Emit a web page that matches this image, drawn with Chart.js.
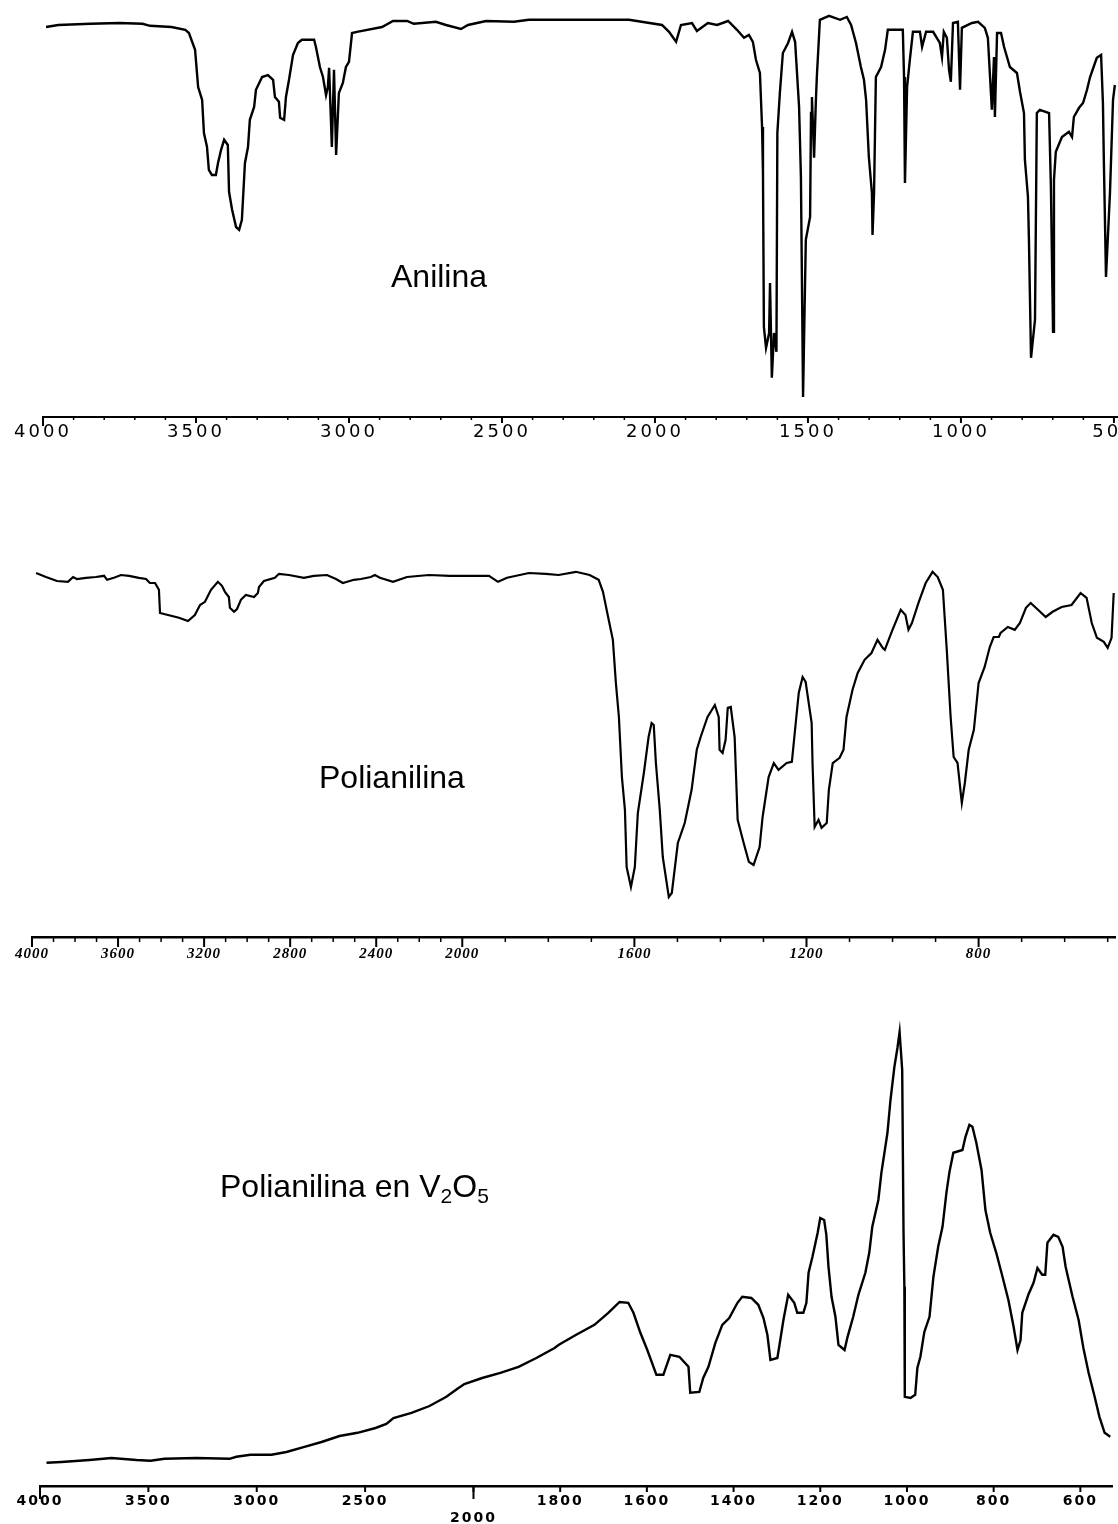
<!DOCTYPE html>
<html lang="es">
<head>
<meta charset="UTF-8">
<title>Espectros IR: Anilina, Polianilina, Polianilina en V2O5</title>
<script src="https://cdn.jsdelivr.net/npm/chart.js"></script>
<style>
  html, body { margin: 0; padding: 0; background: #fff; }
  body { width: 1118px; height: 1524px; position: relative; overflow: hidden; }
  .panel { position: absolute; left: 0; width: 1118px; overflow: hidden; }
  .panel .inner { position: relative; width: 1170px; height: 100%; }
  .label { position: absolute; font-family: "Liberation Sans", Arial, sans-serif; font-size: 32px; line-height: 32px; color: #000; white-space: nowrap; }
  .label sub { font-size: 21px; line-height: 0; vertical-align: -6px; }
</style>
</head>
<body>
  <div class="panel" id="p1" style="top:0;height:457px"><div class="inner"><canvas id="c1"></canvas></div></div>
  <div class="panel" id="p2" style="top:520px;height:457px"><div class="inner"><canvas id="c2"></canvas></div></div>
  <div class="panel" id="p3" style="top:1009px;height:515px"><div class="inner"><canvas id="c3"></canvas></div></div>

  <div class="label" style="left:391px;top:260px">Anilina</div>
  <div class="label" style="left:319px;top:761px">Polianilina</div>
  <div class="label" style="left:220px;top:1170px">Polianilina en V<sub>2</sub>O<sub>5</sub></div>

<script>
// --- Anilina (cm-1 / transmitancia relativa)
const anilinaWn = [3990,3950,3845,3750,3675,3650,3580,3535,3523,3503,3493,3480,3474,3464,3458,3448,3435,3428,3418,3408,
  3396,3392,3382,3369,3359,3350,3340,3330,3324,3310,3304,3284,3265,3248,3242,3229,3225,3212,3206,3196,
  3183,3167,3154,3114,3108,3095,3085,3075,3069,3065,3056,3049,3042,3033,3020,3010,3000,2990,2974,2892,
  2856,2810,2788,2716,2683,2634,2611,2552,2461,2412,2320,2085,1977,1954,1931,1915,1879,1863,1827,1797,
  1761,1732,1709,1693,1680,1670,1657,1650,1647,1644,1637,1627,1624,1618,1611,1603,1600,1592,1582,1565,
  1552,1542,1529,1523,1516,1507,1493,1490,1487,1480,1474,1471,1461,1431,1395,1373,1359,1343,1327,1317,
  1310,1301,1291,1289,1284,1278,1261,1248,1239,1190,1186,1183,1176,1167,1157,1134,1127,1114,1091,1069,
  1062,1056,1046,1039,1033,1026,1010,1003,997,964,944,922,912,899,892,889,882,869,859,840,
  817,807,794,791,781,778,771,758,752,742,712,706,699,696,690,670,647,637,631,614,
  601,588,578,556,542,536,533,526,513,503,497];
const anilinaT = [97.5,98,98.3,98.5,98.3,97.8,97.5,96.8,96,91.8,82.5,79.3,71,67.5,61.8,60.5,60.5,63.5,66.8,69.3,
  68,56.3,51.8,47.5,46.8,49.3,63.5,67.5,74.3,77.5,81.8,85,85.5,84.3,80,78.8,74.8,74.3,80,84.3,
  90.5,93.5,94.3,94.3,92.5,87.5,85,80.5,82.5,87.3,67.5,86.8,65.5,81,83.5,87.5,88.8,96,96.3,97.5,
  99,99,98.3,98.8,98,97,98,99,98.8,99.3,99.3,99.3,98,96.3,93.8,98,98.5,96.5,98.5,98,
  99,96.8,94.8,95.5,93.8,89.3,86,72.5,61,22.5,17.3,21,33.5,9.8,21,16.3,71,80.8,91,93.5,
  96.3,93.8,77.5,60,5,44.3,50,76,80,64.8,79.3,85,99.3,100.3,99.3,100,98,93.5,87.5,84.3,
  79.3,65,56,45.5,56,85,87.5,91.8,96.8,96.8,85,58.5,82.5,89.3,96.3,96.3,92.5,96.3,96.3,93.5,
  90,96.3,94.8,86.8,83.8,98.5,98.8,81.8,97.3,98.5,98.8,97.3,94.8,76.8,90,75,96,96,92.5,87.5,
  86,81.3,76,64.3,55,45,14.8,24.3,76,76.8,76,57.5,21.3,59.3,66.3,70,71.3,70,75,77.3,
  78.5,81.8,85,89.8,90.5,78.5,64.3,35,56,79.3,83];

// --- Polianilina
const polianilinaWn = [3981,3935,3884,3833,3809,3791,3749,3703,3665,3651,3619,3586,3549,3503,3470,3452,3428,3410,3405,3368,
  3317,3275,3243,3219,3196,3168,3136,3117,3103,3085,3080,3061,3047,3029,3006,2968,2950,2945,2922,2871,
  2852,2806,2736,2690,2629,2587,2555,2504,2471,2425,2406,2383,2322,2257,2155,2058,1938,1917,1896,1845,
  1806,1776,1736,1704,1683,1673,1662,1650,1643,1636,1629,1622,1618,1608,1599,1592,1578,1567,1560,1555,
  1550,1541,1534,1520,1513,1499,1483,1467,1455,1446,1430,1413,1404,1402,1395,1388,1383,1376,1367,1360,
  1346,1334,1323,1309,1302,1288,1276,1265,1246,1234,1225,1218,1209,1202,1188,1186,1181,1172,1165,1153,
  1148,1139,1123,1114,1107,1093,1081,1065,1049,1035,1023,1018,1002,981,970,963,955,939,923,907,
  895,883,874,865,858,849,839,832,823,811,800,786,774,765,753,749,732,716,704,690,
  679,662,644,628,607,584,563,549,537,525,509,500,491,486];
const polianilinaT = [91,90,89,88.8,90,89.5,89.8,90,90.3,89.3,89.8,90.5,90.3,89.8,89.5,88.5,88.5,86.8,81,80.5,
  79.8,79,80.5,83,83.8,86.8,88.8,87.8,86.3,85,82.3,81.3,82,84.3,85.5,85,86,87.5,89,89.8,
  90.8,90.5,89.8,90.3,90.5,89.5,88.5,89.3,89.5,90,90.5,89.8,88.8,90,90.5,90.3,90.3,88.8,89.8,91,
  90.8,90.5,91.3,90.5,89.3,86.3,80.5,74.3,63.5,55,40,31.8,17.5,12.5,17.5,31,41,50,53.5,53,
  43.5,31.8,20,10,11,23.5,28.5,36.8,46.8,50,55,58,55,46.8,46,49.3,57.3,57.5,50,29.3,
  23.5,18.8,18,22.5,30,40,43.5,41.8,43.5,43.8,53.5,61,65,63.8,53.5,43.5,27.5,29.3,27.3,28.5,
  36.8,43.5,44.8,46.8,55,61.8,66,69.3,71,74.3,72.3,71.8,76.3,81.8,80.5,76.8,78.5,83.8,88.5,91.3,
  90,86.8,71.8,55,45,43.5,33.5,38.5,46.8,51.8,63.5,67.5,72.5,75,75,76,77.5,76.8,78.5,82.3,
  83.5,81.8,80,81.3,82.5,83,86,84.8,78.5,74.8,73.8,72.3,74.8,86];

// --- Polianilina en V2O5
const pvWn = [3970,3901,3772,3670,3555,3490,3426,3278,3126,3094,3029,2932,2863,2780,2701,2618,2535,2452,2402,2369,
  2286,2203,2125,2074,2042,1980,1938,1896,1855,1813,1803,1763,1721,1689,1663,1643,1631,1615,1599,1578,
  1562,1546,1525,1504,1500,1479,1470,1458,1442,1426,1410,1391,1380,1359,1343,1331,1322,1315,1299,1294,
  1285,1274,1260,1253,1239,1232,1227,1218,1206,1200,1191,1186,1181,1174,1165,1158,1144,1137,1124,1112,
  1096,1087,1080,1066,1059,1045,1038,1029,1022,1017,1011,1008,1006,1005,992,981,976,969,960,948,
  939,928,918,909,902,893,872,865,856,849,840,828,819,808,794,782,766,754,745,738,
  734,720,708,699,688,681,676,662,651,641,634,618,604,593,581,567,556,544,531];
const pvT = [5.8,6,6.5,7,6.5,6.3,6.8,7,6.8,7.3,7.8,7.8,8.5,9.8,11,12.5,13.3,14.5,15.5,17,
  18.3,20,22.3,24.3,25.5,27,28.3,29.8,32,34.5,35.3,37.8,40.3,43.3,46,45.8,43.3,38.3,34,27.8,
  27.8,32.8,32.3,29.8,23.3,23.5,27,29.8,35.8,40.3,42,45.8,47.3,47,45.3,42,37.8,31.5,32,35.3,
  41.5,47.8,45.8,43.3,43.3,45.8,53.3,57.3,63.3,67,66.5,62.8,54.8,47.3,42.3,35.3,34,37.3,42.3,47.8,
  53.3,58.3,64.8,71.5,78.3,88.3,96.5,104.8,109.5,113.5,104,64,49.8,22.3,22,22.8,29.5,32.3,38.5,42.3,
  52.3,59.8,64.8,73.3,78.5,83.3,84,87.3,90.3,89.8,85.8,79,69,63.3,58.3,53.3,46.5,39.8,34,36.5,
  43.3,47.8,50.8,54.5,52.8,52.8,60.8,62.8,62.3,59.8,54.8,47.3,41.5,34.5,28.3,22.3,17.3,13.3,12.3];

// --- ejes (cm-1)
const ticks1 = [4000, 3500, 3000, 2500, 2000, 1500, 1000, 500];
const ticks2 = [4000, 3600, 3200, 2800, 2400, 2000, 1600, 1200, 800];
const ticks3 = [4000, 3500, 3000, 2500, 2000, 1800, 1600, 1400, 1200, 1000, 800, 600];

// eje lineal (anilina) y eje con escala doble bajo 2000 cm-1 (los otros dos)
const linPos = w => 4000 - w;
const splitPos = w => (w >= 2000 ? 4000 - w : 2000 + 2 * (2000 - w));

function minorList(from, to, step, majors) {
  const out = [];
  for (let w = from; w >= to; w -= step) if (!majors.includes(w)) out.push(w);
  return out;
}

const tickMarks = {
  id: 'tickMarks',
  beforeDraw(chart, args, o) {
    chart.ctx.letterSpacing = o.spacing || '0px';
  },
  afterDraw(chart, args, o) {
    const sc = chart.scales.x, ctx = chart.ctx, y = chart.chartArea.bottom;
    ctx.save();
    ctx.strokeStyle = '#000';
    const draw = (list, len, w) => list.forEach(wn => {
      const x = sc.getPixelForValue(o.pos(wn));
      ctx.lineWidth = w;
      ctx.beginPath(); ctx.moveTo(x, y); ctx.lineTo(x, y + len); ctx.stroke();
    });
    draw(o.minor, o.minorLen, 1.5);
    draw(o.major, o.majorLen, 2);
    draw(o.long, o.longLen, 2);
    ctx.restore();
  }
};

function makeChart(id, c) {
  const pts = c.wn.map((w, i) => ({ x: c.pos(w), y: c.t[i] }));
  const labelAt = new Map(c.major.map(w => [c.pos(w), String(w)]));
  return new Chart(document.getElementById(id), {
    type: 'line',
    data: { datasets: [{ data: pts, borderColor: '#000', borderWidth: c.lineW, pointRadius: 0, tension: 0, fill: false, clip: false }] },
    plugins: [tickMarks],
    options: {
      responsive: true,
      maintainAspectRatio: false,
      animation: false,
      layout: { padding: { left: c.left, right: c.right, top: 17, bottom: 0 } },
      plugins: {
        legend: { display: false },
        tooltip: { enabled: false },
        tickMarks: { pos: c.pos, major: c.major, minor: c.minor, long: c.long, majorLen: c.majorLen, minorLen: c.minorLen, longLen: c.longLen, spacing: c.spacing }
      },
      scales: {
        x: {
          type: 'linear',
          min: 0,
          max: c.pos(c.end),
          afterBuildTicks: s => { s.ticks = c.major.map(w => ({ value: c.pos(w) })); },
          afterFit: s => { s.height = c.axisH; },
          border: { display: true, color: '#000', width: c.axisW },
          grid: { display: true, drawOnChartArea: false, drawTicks: false },
          ticks: {
            autoSkip: false, maxRotation: 0, minRotation: 0, color: '#000',
            padding: c.pad, font: c.font,
            callback: v => {
              const s = labelAt.get(v) || '';
              return c.dropLabel && s === c.dropLabel ? ['', s] : s;
            }
          }
        },
        y: { display: false, min: 0, max: c.yMax }
      }
    }
  });
}

makeChart('c1', {
  wn: anilinaWn, t: anilinaT, pos: linPos, end: 490, yMax: 100,
  left: 43, right: 53, axisH: 40, axisW: 2, lineW: 2.4, pad: 5,
  major: ticks1, minor: minorList(3900, 600, 100, ticks1), long: [4000],
  majorLen: 6, minorLen: 3, longLen: 9,
  font: { family: 'DejaVu Sans', size: 18 }, spacing: '3px'
});

makeChart('c2', {
  wn: polianilinaWn, t: polianilinaT, pos: splitPos, end: 483, yMax: 100,
  left: 32, right: 55, axisH: 40, axisW: 2.5, lineW: 2.2, pad: 8,
  major: ticks2, minor: minorList(3900, 500, 100, ticks2), long: [],
  majorLen: 10, minorLen: 5, longLen: 0,
  font: { family: 'Liberation Serif', size: 15, style: 'italic', weight: 'bold' }, spacing: '1px'
});

makeChart('c3', {
  wn: pvWn, t: pvT, pos: splitPos, end: 527, yMax: 115,
  left: 40, right: 58, axisH: 38, axisW: 2.5, lineW: 2.4, pad: 7,
  major: ticks3, minor: [], long: [4000, 2000],
  majorLen: 6, minorLen: 0, longLen: 13,
  font: { family: 'DejaVu Sans', size: 14, weight: 'bold' }, spacing: '2px', dropLabel: '2000'
});
</script>
</body>
</html>
